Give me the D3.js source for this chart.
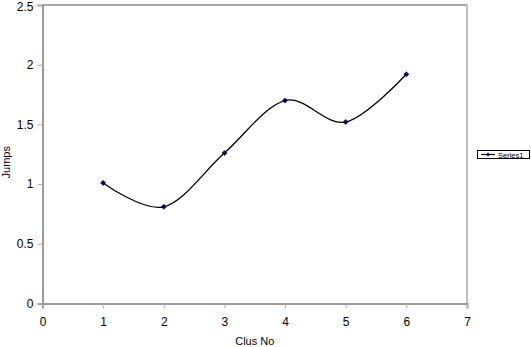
<!DOCTYPE html>
<html><head><meta charset="utf-8">
<script src="https://cdn.jsdelivr.net/npm/d3@7"></script>
<style>body{margin:0;background:#fff}svg{display:block}text{font-family:"Liberation Sans",Arial,sans-serif}</style>
</head><body>
<svg id="c" width="531" height="347"></svg>
<script>
const clusNo = [1, 2, 3, 4, 5, 6];
const jumps = [1.01, 0.81, 1.26, 1.70, 1.52, 1.92];
const xTicks = [0, 1, 2, 3, 4, 5, 6, 7];
const yTicks = [0, 0.5, 1, 1.5, 2, 2.5];
const seriesName = "Series1";

const svg = d3.select("#c");
const L = 42.5, R = 467, T = 5, B = 303.5;
const x = d3.scaleLinear().domain([0, 7]).range([L, R]);
const y = d3.scaleLinear().domain([0, 2.5]).range([B, T]);

// plot border (top/right lighter)
svg.append("line").attr("x1", L).attr("x2", R).attr("y1", T).attr("y2", T).attr("stroke", "#a8a8a8").attr("stroke-width", 2);
svg.append("line").attr("x1", R).attr("x2", R).attr("y1", T).attr("y2", B).attr("stroke", "#bdbdbd").attr("stroke-width", 2);

const yAxis = svg.append("g").attr("transform", `translate(${L},0)`)
  .call(d3.axisLeft(y).tickValues(yTicks).tickSize(5).tickFormat(d3.format("")));
const xAxis = svg.append("g").attr("transform", `translate(0,${B})`)
  .call(d3.axisBottom(x).tickValues(xTicks).tickSize(5).tickFormat(d3.format("")));
[yAxis, xAxis].forEach(g => {
  g.select(".domain").attr("stroke", "#9a9a9a").attr("stroke-width", 2);
  g.selectAll(".tick line").attr("stroke", "#b0b0b0");
  g.selectAll(".tick text").attr("fill", "#000").style("font-size", "12px")
    .style("font-family", "'Liberation Sans', Arial, sans-serif");
});
yAxis.selectAll(".tick text").attr("x", -9).attr("dy", d => d === 2.5 ? "0.42em" : "0.32em");
xAxis.selectAll(".tick text").attr("y", 14);

// axis titles
svg.append("text").attr("transform", `translate(10,${(T + B) / 2 + 8}) rotate(-90)`)
  .attr("text-anchor", "middle").style("font-size", "11px").text("Jumps");
svg.append("text").attr("x", (L + R) / 2).attr("y", 345)
  .attr("text-anchor", "middle").style("font-size", "11px").text("Clus No");

const data = clusNo.map((c, i) => ({ x: c, y: jumps[i] }));
const line = d3.line().x(d => x(d.x)).y(d => y(d.y)).curve(d3.curveCatmullRom.alpha(0));
svg.append("path").datum(data).attr("d", line).attr("fill", "none")
  .attr("stroke", "#000").attr("stroke-width", 1.3);

const marker = d3.symbol().type(d3.symbolSquare).size(13);
svg.selectAll(".pt").data(data).enter().append("path")
  .attr("transform", d => `translate(${x(d.x)},${y(d.y)}) rotate(45)`)
  .attr("d", marker).attr("fill", "#000060").attr("stroke", "#000060").attr("stroke-width", 0.6);

// legend
const lg = svg.append("g").attr("transform", "translate(477,150)");
lg.append("rect").attr("x", 0.5).attr("y", 0.5).attr("width", 52).attr("height", 8)
  .attr("fill", "#fff").attr("stroke", "#000").attr("stroke-width", 1);
lg.append("line").attr("x1", 4).attr("x2", 18).attr("y1", 4.5).attr("y2", 4.5).attr("stroke", "#000").attr("stroke-width", 1.2);
lg.append("path").attr("transform", "translate(11,4.5) rotate(45)").attr("d", d3.symbol().type(d3.symbolSquare).size(9)).attr("fill", "#000060");
lg.append("text").attr("x", 21).attr("y", 7.5).style("font-size", "7.5px").text(seriesName);
</script>
</body></html>
